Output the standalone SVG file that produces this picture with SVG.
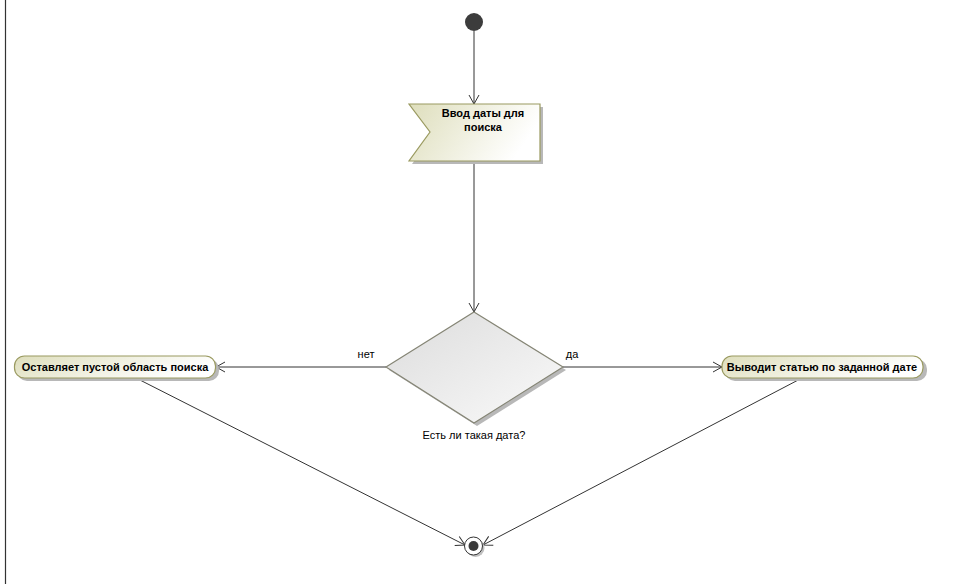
<svg xmlns="http://www.w3.org/2000/svg" width="959" height="585" viewBox="0 0 959 585">
<defs>
<linearGradient id="gAct" x1="0" y1="0" x2="1" y2="0.3">
<stop offset="0" stop-color="#dedebc"/>
<stop offset="1" stop-color="#ffffff"/>
</linearGradient>
<linearGradient id="gDec" x1="0" y1="0" x2="1" y2="1">
<stop offset="0" stop-color="#dcdcdc"/>
<stop offset="1" stop-color="#fafafa"/>
</linearGradient>
<marker id="open" markerWidth="12" markerHeight="12" refX="10" refY="6" orient="auto" markerUnits="userSpaceOnUse">
<path d="M1,1 L10,6 L1,11" fill="none" stroke="#333" stroke-width="1"/>
</marker>
<style>
.edge{stroke:#333;stroke-width:1;fill:none}
.act{fill:url(#gAct);stroke:#9a9a60;stroke-width:1.2}
.shadow{fill:#b8b8b8}
.bt{font-family:"Liberation Sans",Arial,sans-serif;font-size:11px;font-weight:bold;fill:#000}
.t{font-family:"Liberation Sans",Arial,sans-serif;font-size:11px;fill:#000}
</style>
</defs>
<rect width="959" height="585" fill="#fff"/>
<line x1="5.5" y1="0" x2="5.5" y2="584" stroke="#333" stroke-width="1.2"/>
<g id="connectors">
<line class="edge" x1="474" y1="31" x2="474" y2="104" marker-end="url(#open)"/>
<line class="edge" x1="474" y1="161" x2="474" y2="312" marker-end="url(#open)"/>
<line class="edge" x1="386" y1="367" x2="216" y2="367" marker-end="url(#open)"/>
<line class="edge" x1="563" y1="367" x2="722" y2="367" marker-end="url(#open)"/>
<line class="edge" x1="136" y1="378" x2="465" y2="545" marker-end="url(#open)"/>
<line class="edge" x1="802" y1="378" x2="483" y2="545" marker-end="url(#open)"/>
<text class="t" x="366" y="358" text-anchor="middle">нет</text>
<text class="t" x="572" y="358" text-anchor="middle">да</text>
</g>
<g id="start">
<circle cx="474" cy="22" r="9" fill="#3c3c3c"/>
</g>
<g id="input">
<path class="shadow" d="M412,107 L543,107 L543,164 L412,164 L433,135 Z"/>
<path d="M409,104 L540,104 L540,161 L409,161 L430,132 Z" fill="url(#gAct)" stroke="#9a9a60" stroke-width="1.2"/>
<text class="bt" x="483" y="117" text-anchor="middle">Ввод даты для</text>
<text class="bt" x="483" y="131" text-anchor="middle">поиска</text>
</g>
<g id="decision">
<path class="shadow" d="M477,315 L566,370 L477,426 L389,370 Z"/>
<path d="M474,312 L563,367 L474,423 L386,367 Z" fill="url(#gDec)" stroke="#858575" stroke-width="1.2"/>
<text class="t" x="474" y="439" text-anchor="middle">Есть ли такая дата?</text>
</g>
<g id="leave">
<rect class="shadow" x="17" y="359" width="202" height="22" rx="10"/>
<rect class="act" x="14.5" y="356" width="201" height="22" rx="10"/>
<text class="bt" x="115" y="371" text-anchor="middle">Оставляет пустой область поиска</text>
</g>
<g id="show">
<rect class="shadow" x="725" y="359" width="202" height="22" rx="10"/>
<rect class="act" x="722" y="356" width="201" height="22" rx="10"/>
<text class="bt" x="822" y="371" text-anchor="middle">Выводит статью по заданной дате</text>
</g>
<g id="end">
<circle cx="475.5" cy="548" r="9" fill="#c0c0c0"/>
<circle cx="473.5" cy="546" r="9" fill="#fff" stroke="#333" stroke-width="1"/>
<circle cx="473.5" cy="546" r="5" fill="#3c3c3c"/>
</g>
</svg>
